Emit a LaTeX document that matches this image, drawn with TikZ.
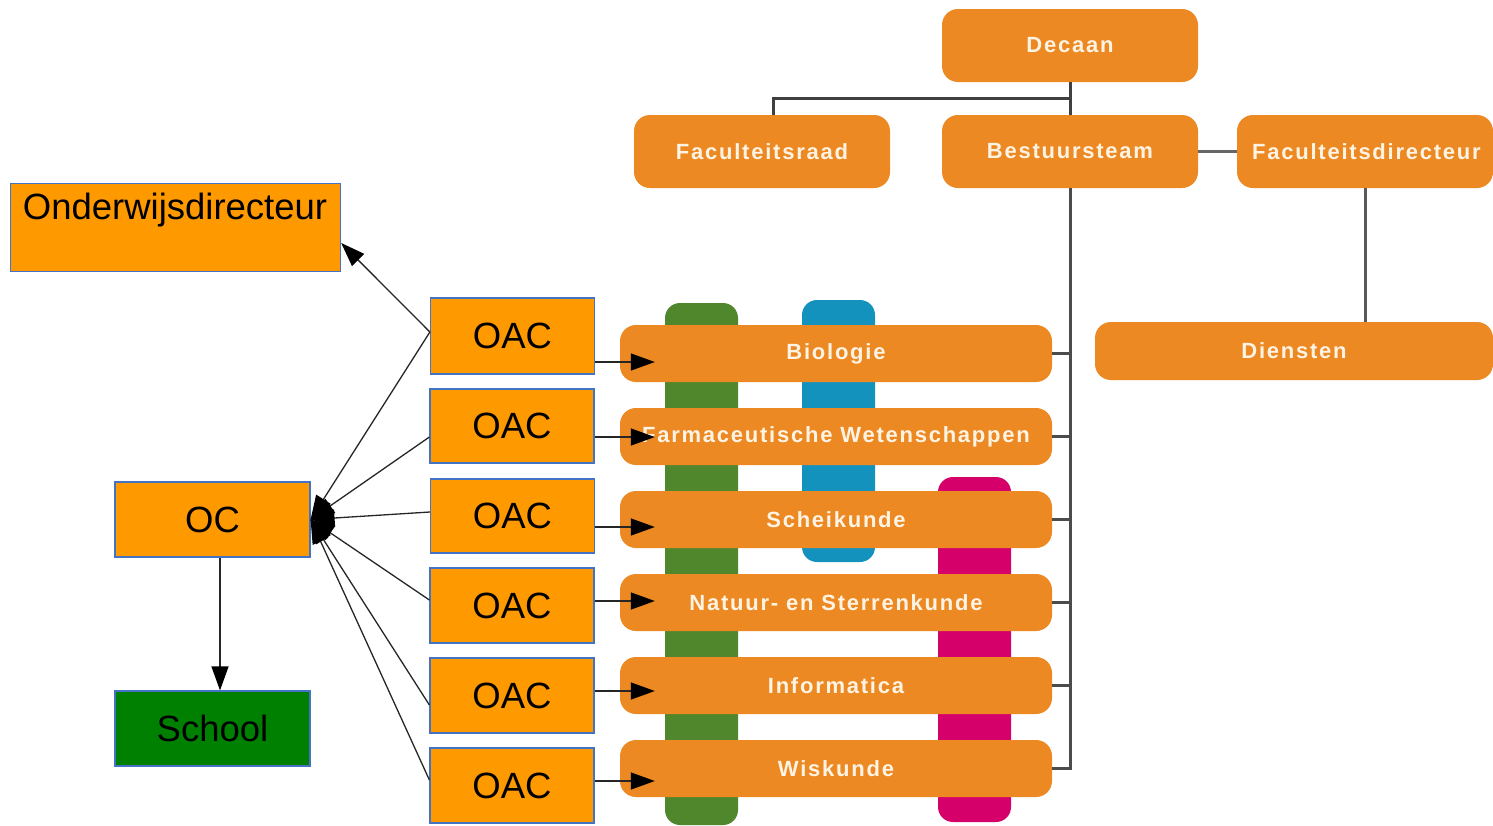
\documentclass[tikz,border=0pt]{standalone}
\usepackage{fontspec}
\setmainfont{Liberation Sans}
\newfontfamily\deptfont[LetterSpace=8]{Liberation Sans}
\usetikzlibrary{arrows.meta}
\definecolor{orng}{RGB}{236,137,35}
\definecolor{boxor}{RGB}{255,153,0}
\definecolor{bord}{RGB}{68,114,196}
\definecolor{grn}{RGB}{80,134,44}
\definecolor{blu}{RGB}{20,146,190}
\definecolor{mag}{RGB}{214,0,106}
\definecolor{schoolgreen}{RGB}{0,128,0}
\definecolor{cream}{RGB}{255,244,228}
\tikzset{
  rbox/.style={fill=orng, rounded corners=16pt, inner sep=0pt, text=cream,
    font=\deptfont\bfseries\fontsize{22}{24}\selectfont},
  obox/.style={draw=bord, line width=1.2pt, fill=boxor, inner sep=0pt,
    font=\fontsize{36.5}{40}\selectfont},
  arr/.style={draw=black!85, line width=1.3pt, -{Triangle[length=24pt,width=17pt,color=black]}},
  tree/.style={draw=black!75, line width=3pt},
  bar/.style={rounded corners=15pt}
}
\begin{document}
\begin{tikzpicture}[x=1pt,y=-1pt]
\useasboundingbox (0,0) rectangle (1493,825);
% colored vertical bars
\fill[grn, bar] (665,303) rectangle (738,825);
\fill[blu, bar] (802,300) rectangle (875,562);
\fill[mag, bar] (938,477) rectangle (1011,822);
% top tree
\node[rbox, minimum width=256pt, minimum height=73pt] (dec) at (1070,45.5) {Decaan};
\node[rbox, minimum width=256pt, minimum height=73pt] (fr) at (762,151.5) {Faculteitsraad};
\node[rbox, minimum width=256pt, minimum height=73pt] (bt) at (1070,151.5) {Bestuursteam};
\node[rbox, minimum width=256pt, minimum height=73pt] (fd) at (1365,151.5) {};
\begin{scope}
\clip[rounded corners=16pt] (fd.south west) rectangle (fd.north east);
\node[rbox, fill=none, anchor=west] (fdtext) at (1252,151.5) {Faculteitsdirecteur};
\end{scope}
\node[rbox, minimum width=398pt, minimum height=58pt] (dien) at (1294,351) {Diensten};
% departments
\node[rbox, minimum width=432pt, minimum height=57pt] (bio) at (836,353.5) {Biologie};
\node[rbox, minimum width=432pt, minimum height=57pt] (far) at (836,436.5) {Farmaceutische Wetenschappen};
\node[rbox, minimum width=432pt, minimum height=57pt] (sch) at (836,519.5) {Scheikunde};
\node[rbox, minimum width=432pt, minimum height=57pt] (nat) at (836,602.5) {Natuur- en Sterrenkunde};
\node[rbox, minimum width=432pt, minimum height=57pt] (inf) at (836,685.5) {Informatica};
\node[rbox, minimum width=432pt, minimum height=57pt] (wis) at (836,768.5) {Wiskunde};
% tree connectors
\draw[tree] (dec.south) -- ++(0,16) -| ([xshift=11pt]fr.north);
\draw[tree] (dec.south) -- (bt.north);
\draw[tree, draw=black!60] (bt.east) -- (fd.west);
\draw[tree, draw=black!65] (fd.south) -- (fd.south |- dien.north);
\draw[tree, draw=black!70] (bt.south) |- (wis.east);
\foreach \d in {bio,far,sch,nat,inf}
  \draw[tree, draw=black!70] (\d.east) -- (\d.east -| bt.south);
% left part
\node[obox, minimum width=330pt, minimum height=88pt, anchor=north west] (od) at (10,183) {};
\node[anchor=base, font=\fontsize{36.5}{40}\selectfont] (odtext) at (175,219) {Onderwijsdirecteur};
\node[obox, minimum width=164pt, minimum height=76pt] (oac1) at (512.5,336) {OAC};
\node[obox, minimum width=164pt, minimum height=74pt] (oac2) at (512,426) {OAC};
\node[obox, minimum width=164pt, minimum height=74pt] (oac3) at (512.5,516) {OAC};
\node[obox, minimum width=164pt, minimum height=75pt] (oac4) at (512,605.5) {OAC};
\node[obox, minimum width=164pt, minimum height=75pt] (oac5) at (512,695.5) {OAC};
\node[obox, minimum width=164pt, minimum height=75pt] (oac6) at (512,785.5) {OAC};
\node[obox, minimum width=195pt, minimum height=75pt] (oc) at (212.5,519.5) {OC};
\node[obox, fill=schoolgreen, minimum width=195pt, minimum height=75pt] (school) at (212.5,728.5) {School};
% arrows
\draw[arr] (oac1.west |- 0,332) -- (od.east |- 0,243);
\draw[arr] (oac1.west |- 0,332) -- (oc.east);
\draw[arr] (oac2.west |- 0,437) -- (oc.east);
\draw[arr] (oac3.west |- 0,512) -- (oc.east);
\draw[arr] (oac4.west |- 0,600) -- (oc.east);
\draw[arr] (oac5.west |- 0,705) -- (oc.east);
\draw[arr] (oac6.west |- 0,780) -- (oc.east);
\draw[arr] ([xshift=7.5pt]oc.south) -- ([xshift=7.5pt]school.north);
\draw[arr] (oac1.east |- 0,362) -- ([xshift=35pt]bio.west |- 0,362);
\draw[arr] (oac2.east |- 0,437) -- ([xshift=35pt]far.west |- 0,437);
\draw[arr] (oac3.east |- 0,527) -- ([xshift=35pt]sch.west |- 0,527);
\draw[arr] (oac4.east |- 0,601) -- ([xshift=35pt]nat.west |- 0,601);
\draw[arr] (oac5.east |- 0,691) -- ([xshift=35pt]inf.west |- 0,691);
\draw[arr] (oac6.east |- 0,781) -- ([xshift=35pt]wis.west |- 0,781);
\end{tikzpicture}
\end{document}
